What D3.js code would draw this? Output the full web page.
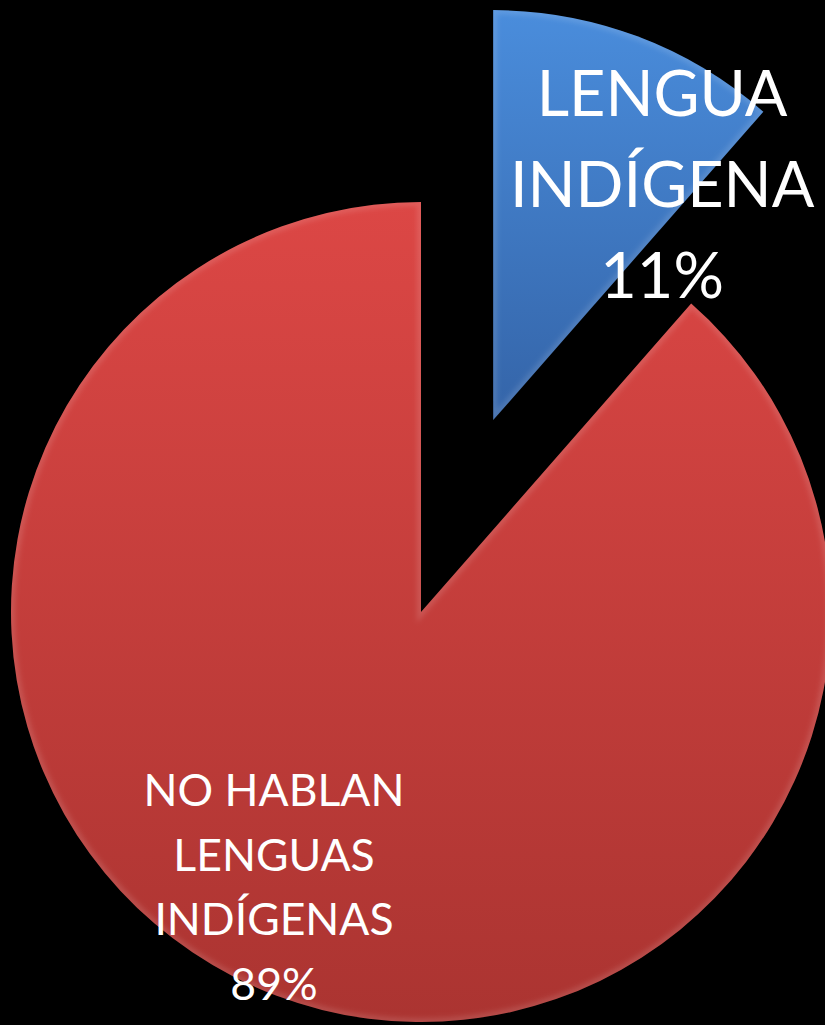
<!DOCTYPE html>
<html>
<head>
<meta charset="utf-8">
<script src="https://cdn.jsdelivr.net/npm/d3@7"></script>
<style>
  html, body { margin: 0; padding: 0; background: #000; }
  svg { display: block; }
</style>
</head>
<body>
<svg id="chart"></svg>
<script>
// Datos del gráfico
const categories = ["LENGUA INDÍGENA", "NO HABLAN LENGUAS INDÍGENAS"];
const values = [11.45, 88.55];
const labelLines = [["LENGUA", "INDÍGENA"], ["NO HABLAN", "LENGUAS", "INDÍGENAS"]];

// Estilo y disposición
const width = 825, height = 1025;
const center = {x: 421, y: 612};
const radius = 410;
const explode = [205, 0];
const colors = [["#4a8ddc", "#3464a8"], ["#dc4745", "#ab3431"]];
const labelFont = [63, 44.5];
const lineHeight = [91, 64.5];
const labelPolar = [{angle: 38.4, r: 272}, {angle: 206.8, r: 326}];

const svg = d3.select("#chart").attr("width", width).attr("height", height);
svg.append("rect").attr("width", width).attr("height", height).attr("fill", "#000");

const pie = d3.pie().sort(null).startAngle(0).endAngle(2 * Math.PI);
const arcs = pie(values);
const arc = d3.arc().innerRadius(0).outerRadius(radius);

const defs = svg.append("defs");
defs.append("filter").attr("id", "blur")
    .append("feGaussianBlur").attr("stdDeviation", 2.5);

arcs.forEach((a, i) => {
    // Desplazamiento del sector a lo largo de su bisectriz
    const mid = (a.startAngle + a.endAngle) / 2;
    const cx = center.x + explode[i] * Math.sin(mid);
    const cy = center.y - explode[i] * Math.cos(mid);

    // Degradado vertical (coordenadas locales del sector)
    const grad = defs.append("linearGradient")
        .attr("id", "grad" + i)
        .attr("gradientUnits", "userSpaceOnUse")
        .attr("x1", 0).attr("x2", 0)
        .attr("y1", -radius).attr("y2", i === 0 ? 0 : radius);
    grad.append("stop").attr("offset", 0).attr("stop-color", colors[i][0]);
    grad.append("stop").attr("offset", 1).attr("stop-color", colors[i][1]);

    defs.append("clipPath").attr("id", "clip" + i)
        .append("path")
        .attr("d", arc(a));

    const g = svg.append("g")
        .attr("class", "slice")
        .attr("transform", `translate(${cx},${cy})`);
    g.append("path")
        .attr("d", arc(a))
        .attr("fill", `url(#grad${i})`);

    // Biselado suave en el borde
    g.append("g").attr("clip-path", `url(#clip${i})`)
        .append("path")
        .attr("d", arc(a))
        .attr("fill", "none")
        .attr("stroke", "#ffffff")
        .attr("stroke-opacity", 0.12)
        .attr("stroke-width", 8)
        .attr("filter", "url(#blur)");

    // Etiqueta
    const ang = labelPolar[i].angle * Math.PI / 180;
    const lx = cx + labelPolar[i].r * Math.sin(ang);
    const ly = cy - labelPolar[i].r * Math.cos(ang);
    const lines = labelLines[i].concat([Math.round(values[i]) + "%"]);
    const n = lines.length;
    const text = svg.append("text")
        .attr("text-anchor", "middle")
        .attr("fill", "#ffffff")
        .attr("font-family", "Lato, 'Open Sans', sans-serif")
        .attr("font-size", labelFont[i]);
    lines.forEach((t, k) => {
        text.append("tspan")
            .attr("x", lx)
            .attr("y", ly + (k - (n - 1) / 2) * lineHeight[i])
            .text(t);
    });
});
</script>
</body>
</html>
